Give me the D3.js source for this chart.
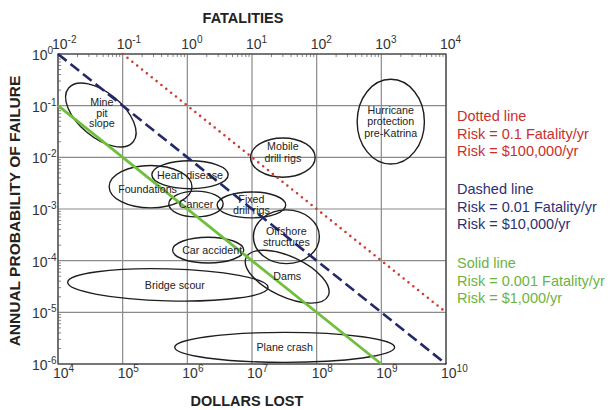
<!DOCTYPE html>
<html>
<head>
<meta charset="utf-8">
<script src="https://cdn.jsdelivr.net/npm/d3@7"></script>
<style>
  body { margin: 0; background: #fff; }
  text { font-family: Arial, "Liberation Sans", sans-serif; }
</style>
</head>
<body>
<svg id="chart" width="611" height="410"></svg>
<script>
// ---- data ----
const dollarExp = [4, 5, 6, 7, 8, 9, 10];          // bottom axis, dollars lost
const fatalityExp = [-2, -1, 0, 1, 2, 3, 4];       // top axis, fatalities
const probExp = [0, -1, -2, -3, -4, -5, -6];       // annual probability of failure
const dollarsPerFatality = 1e6;

// iso-risk lines: probability * dollars = constant
const riskNames = ["Dotted line", "Dashed line", "Solid line"];
const riskDollarsPerYr = [1e5, 1e4, 1e3];
const riskFatalityText = ["0.1", "0.01", "0.001"];
const riskDollarText = ["$100,000", "$10,000", "$1,000"];

// hazard regions: centre (dollars, probability), half-extent in decades, tilt in degrees
const hazardNames = ["Mine pit slope", "Foundations", "Heart disease", "Cancer", "Fixed drill rigs",
  "Mobile drill rigs", "Offshore structures", "Car accident", "Dams", "Bridge scour",
  "Plane crash", "Hurricane protection pre-Katrina"];
const hazardLines = [["Mine", "pit", "slope"], ["Foundations"], ["Heart disease"], ["Cancer"],
  ["Fixed", "drill rigs"], ["Mobile", "drill rigs"], ["Offshore", "structures"], ["Car accident"],
  ["Dams"], ["Bridge scour"], ["Plane crash"], ["Hurricane", "protection", "pre-Katrina"]];
const hazardDollars = [4.6e4, 2.7e5, 1.1e6, 1.36e6, 9.8e6, 3.0e7, 3.4e7, 2.1e6, 3.5e7, 5.0e5, 3.2e7, 1.4e9];
const hazardProb = [0.066, 2.7e-3, 4.6e-3, 1.25e-3, 1.2e-3, 9.9e-3, 2.9e-4, 1.6e-4, 4.9e-5, 3.4e-5, 2.1e-6, 0.049];
const hazardSpanX = [0.65, 0.64, 0.59, 0.42, 0.53, 0.50, 0.51, 0.55, 0.70, 1.55, 1.70, 0.52];
const hazardSpanY = [0.43, 0.41, 0.27, 0.25, 0.25, 0.38, 0.52, 0.25, 0.39, 0.31, 0.29, 0.82];
const hazardTilt = [40, 0, 0, 0, 0, 0, 0, 0, 25, 1.5, 0, 0];

// ---- layout ----
const margin = { left: 58, top: 54, right: 165, bottom: 46 };
const W = 611, H = 410;
const plotW = W - margin.left - margin.right;   // 388
const plotH = H - margin.top - margin.bottom;   // 310

const labelShift = { "Car accident": [4, 0], "Bridge scour": [7, 0], "Foundations": [-3, 2], "Mine pit slope": [1, -2], "Mobile drill rigs": [0, -5] };
const lineGap = { "Mine pit slope": 10.5, "Fixed drill rigs": 10.5 };

const riskColors = ["#cf3b2e", "#23296b", "#6fbf3a"];
const riskTextColors = ["#c9302c", "#2e3070", "#6cb33f"];

const svg = d3.select("#chart");
const g = svg.append("g").attr("transform", `translate(${margin.left},${margin.top})`);

const x = d3.scaleLog().domain([1e4, 1e10]).range([0, plotW]);
const xTop = d3.scaleLog().domain([1e4 / dollarsPerFatality, 1e10 / dollarsPerFatality]).range([0, plotW]);
const y = d3.scaleLog().domain([1e-6, 1]).range([plotH, 0]);

// grid
g.append("g").selectAll("line").data(dollarExp).join("line")
  .attr("x1", d => x(10 ** d)).attr("x2", d => x(10 ** d))
  .attr("y1", 0).attr("y2", plotH)
  .attr("stroke", "#8a8a8a").attr("stroke-width", 1.2);
g.append("g").selectAll("line").data(probExp).join("line")
  .attr("x1", 0).attr("x2", plotW)
  .attr("y1", d => y(10 ** d)).attr("y2", d => y(10 ** d))
  .attr("stroke", "#8a8a8a").attr("stroke-width", 1.2);

// minor ticks along top and left edges
const minorX = [];
for (let e = -2; e < 4; e++) for (let m = 2; m < 10; m++) minorX.push(m * 10 ** e);
g.append("g").selectAll("line").data(minorX).join("line")
  .attr("x1", d => xTop(d)).attr("x2", d => xTop(d))
  .attr("y1", 0).attr("y2", 3).attr("stroke", "#666").attr("stroke-width", 0.8);
const minorY = [];
for (let e = -6; e < 0; e++) for (let m = 2; m < 10; m++) minorY.push(m * 10 ** e);
g.append("g").selectAll("line").data(minorY).join("line")
  .attr("x1", 0).attr("x2", 3)
  .attr("y1", d => y(d)).attr("y2", d => y(d)).attr("stroke", "#666").attr("stroke-width", 0.8);

// frame
g.append("rect").attr("x", 0).attr("y", 0).attr("width", plotW).attr("height", plotH)
  .attr("fill", "none").attr("stroke", "#444").attr("stroke-width", 1.2);

// hazard ellipses
const hz = hazardNames.map((name, i) => {
  const cx = x(hazardDollars[i]), cy = y(hazardProb[i]);
  return {
    name, lines: hazardLines[i], cx, cy,
    rx: x(hazardDollars[i] * 10 ** hazardSpanX[i]) - cx,
    ry: cy - y(hazardProb[i] * 10 ** hazardSpanY[i]),
    tilt: hazardTilt[i]
  };
});
g.append("g").selectAll("ellipse").data(hz).join("ellipse")
  .attr("cx", 0).attr("cy", 0)
  .attr("rx", d => d.rx).attr("ry", d => d.ry)
  .attr("transform", d => `translate(${d.cx},${d.cy}) rotate(${d.tilt})`)
  .attr("fill", "none").attr("stroke", "#1e1e1e").attr("stroke-width", 1.4);

// iso-risk lines
const riskLines = riskDollarsPerYr.map((r, i) => {
  const d0 = Math.max(1e4, r / 1), d1 = Math.min(1e10, r / 1e-6);
  return { name: riskNames[i], pts: [[d0, r / d0], [d1, r / d1]], color: riskColors[i] };
});
const line = d3.line().x(d => x(d[0])).y(d => y(d[1]));
const styles = [
  { w: 2.6, dash: "0 6.2", cap: "round" },
  { w: 2.6, dash: "11 5", cap: "butt" },
  { w: 2.8, dash: null, cap: "butt" }
];
g.append("g").selectAll("path").data(riskLines).join("path")
  .attr("d", d => line(d.pts))
  .attr("fill", "none")
  .attr("stroke", d => d.color)
  .attr("stroke-width", (d, i) => styles[i].w)
  .attr("stroke-dasharray", (d, i) => styles[i].dash)
  .attr("stroke-linecap", (d, i) => styles[i].cap);

// hazard labels
const lbl = g.append("g").attr("font-size", 10.7).attr("fill", "#222").attr("text-anchor", "middle");
hz.forEach(d => {
  const sh = labelShift[d.name] || [0, 0];
  const gap = lineGap[d.name] || 11.8;
  const n = d.lines.length;
  d.lines.forEach((t, k) => {
    lbl.append("text")
      .attr("x", d.cx + sh[0])
      .attr("y", d.cy + sh[1] + (k - (n - 1) / 2) * gap + 3.8)
      .text(t);
  });
});

// power-of-ten tick label helper
function pow10(sel, e) {
  sel.append("tspan").text("10");
  sel.append("tspan").attr("font-size", 10).attr("dy", -6).text(e);
}

// bottom axis labels
g.append("g").selectAll("text").data(dollarExp).join("text")
  .attr("x", d => x(10 ** d) - 5).attr("y", plotH + 14)
  .attr("font-size", 14).attr("fill", "#333")
  .each(function (d) { pow10(d3.select(this), d); });

// top axis labels
g.append("g").selectAll("text").data(fatalityExp).join("text")
  .attr("x", d => xTop(10 ** d) - 6).attr("y", -5)
  .attr("font-size", 14).attr("fill", "#333")
  .each(function (d) { pow10(d3.select(this), d); });

// left axis labels
g.append("g").selectAll("text").data(probExp).join("text")
  .attr("x", -26).attr("y", d => y(10 ** d) + 6)
  .attr("font-size", 14).attr("fill", "#333")
  .each(function (d) { pow10(d3.select(this), d); });

// axis titles
svg.append("text").attr("x", 243).attr("y", 23)
  .attr("text-anchor", "middle").attr("font-size", 14.5).attr("font-weight", "bold").attr("fill", "#222")
  .text("FATALITIES");
svg.append("text").attr("x", 247).attr("y", 406)
  .attr("text-anchor", "middle").attr("font-size", 14.5).attr("font-weight", "bold").attr("fill", "#222")
  .text("DOLLARS LOST");
svg.append("text")
  .attr("transform", `translate(20,${margin.top + plotH / 2 + 2}) rotate(-90)`)
  .attr("text-anchor", "middle").attr("font-size", 15.5).attr("font-weight", "bold").attr("fill", "#222")
  .text("ANNUAL PROBABILITY OF FAILURE");

// legend
const legendTop = [121, 194, 268];
const leg = svg.append("g").attr("font-size", 14.5);
riskNames.forEach((name, i) => {
  const rows = [name, `Risk = ${riskFatalityText[i]} Fatality/yr`, `Risk = ${riskDollarText[i]}/yr`];
  rows.forEach((t, k) => {
    leg.append("text").attr("x", 457).attr("y", legendTop[i] + k * 17.5)
      .attr("fill", riskTextColors[i]).text(t);
  });
});
</script>
</body>
</html>
